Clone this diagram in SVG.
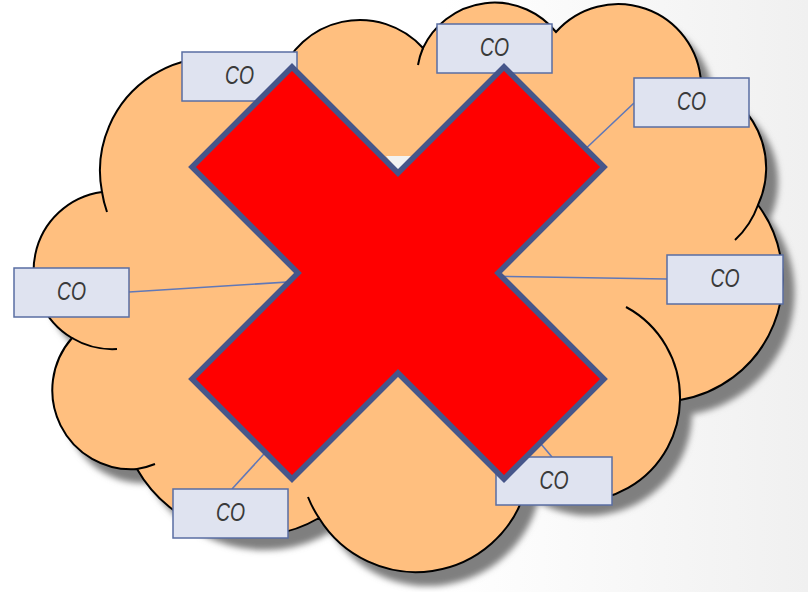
<svg xmlns="http://www.w3.org/2000/svg" width="808" height="592" viewBox="0 0 808 592">
<defs>
<linearGradient id="bg" x1="0" y1="0" x2="1" y2="0">
<stop offset="0.55" stop-color="#ffffff"/>
<stop offset="1" stop-color="#f0f0f0"/>
</linearGradient>
<filter id="blur" x="-10%" y="-10%" width="120%" height="120%">
<feGaussianBlur stdDeviation="3"/>
</filter>
<path id="cloudPath" d="M72,338 A79,79 0 0 1 102,192 A113,113 0 0 1 279,79 A85,85 0 0 1 423,48 A79,79 0 0 1 556,32 A83,83 0 0 1 701,83 A88,88 0 0 1 758,205 A123,123 0 0 1 680,400 A103,103 0 0 1 526,488 A114,114 0 0 1 319,518 A132.5,132.5 0 0 1 137,469 A79,79 0 0 1 72,338 Z"/>
</defs>
<style>
.box{fill:#dfe3f0;stroke:#5a6ea3;stroke-width:1.5}
.lbl{font-family:"Liberation Sans","DejaVu Sans",sans-serif;font-style:italic;font-size:25px;fill:#3a3a3a;text-anchor:middle}
.conn{stroke:#6078b8;stroke-width:1.6;fill:none}
.tail{fill:none;stroke:#000;stroke-width:2}
</style>
<rect width="808" height="592" fill="url(#bg)"/>
<g id="cloud">
<use href="#cloudPath" fill="#7f7f7f" transform="translate(12,14)" filter="url(#blur)"/>
<use href="#cloudPath" fill="#ffbf7f" stroke="#000" stroke-width="2"/>
<path class="tail" d="M117,349 A79,79 0 0 1 72,338 M107,212 A113,113 0 0 1 102,192 M418,65 A79,79 0 0 1 423,48 M758,205 A88,88 0 0 1 735,240 M626,307 A103,103 0 0 1 680,400 M319,518 A114,114 0 0 1 308,497 M155,464 A79,79 0 0 1 137,469"/>
<polygon points="386,156 411,156 398,171" fill="#f2f2f2"/>
</g>
<g id="connectors">
<line class="conn" x1="129" y1="292" x2="320" y2="280"/>
<line class="conn" x1="667" y1="279" x2="480" y2="276"/>
<line class="conn" x1="634" y1="103" x2="560" y2="173"/>
<line class="conn" x1="232" y1="489" x2="285" y2="431"/>
<line class="conn" x1="552" y1="457" x2="530" y2="431"/>
</g>
<g id="co-top-left"><rect class="box" x="182" y="52" width="115" height="49"/><text class="lbl" x="239.5" y="84" textLength="29" lengthAdjust="spacingAndGlyphs">CO</text></g>
<g id="co-top"><rect class="box" x="437" y="24" width="115" height="49"/><text class="lbl" x="494.5" y="56" textLength="29" lengthAdjust="spacingAndGlyphs">CO</text></g>
<g id="co-top-right"><rect class="box" x="634" y="78" width="115" height="49"/><text class="lbl" x="691.5" y="110" textLength="29" lengthAdjust="spacingAndGlyphs">CO</text></g>
<g id="co-left"><rect class="box" x="14" y="268" width="115" height="49"/><text class="lbl" x="71.5" y="300" textLength="29" lengthAdjust="spacingAndGlyphs">CO</text></g>
<g id="co-right"><rect class="box" x="667" y="255" width="116" height="49"/><text class="lbl" x="725" y="287" textLength="29" lengthAdjust="spacingAndGlyphs">CO</text></g>
<g id="co-bottom-left"><rect class="box" x="173" y="489" width="115" height="49"/><text class="lbl" x="230.5" y="521" textLength="29" lengthAdjust="spacingAndGlyphs">CO</text></g>
<g id="co-bottom-right"><rect class="box" x="496" y="457" width="116" height="48"/><text class="lbl" x="554" y="489" textLength="29" lengthAdjust="spacingAndGlyphs">CO</text></g>
<g id="cross">
<polygon points="292,67 398,173 504,67 604,167 498,273 604,379 504,479 398,373 292,479 192,379 298,273 192,167" fill="#ff0000" stroke="#46568a" stroke-width="5.5" stroke-linejoin="miter"/>
</g>
</svg>
